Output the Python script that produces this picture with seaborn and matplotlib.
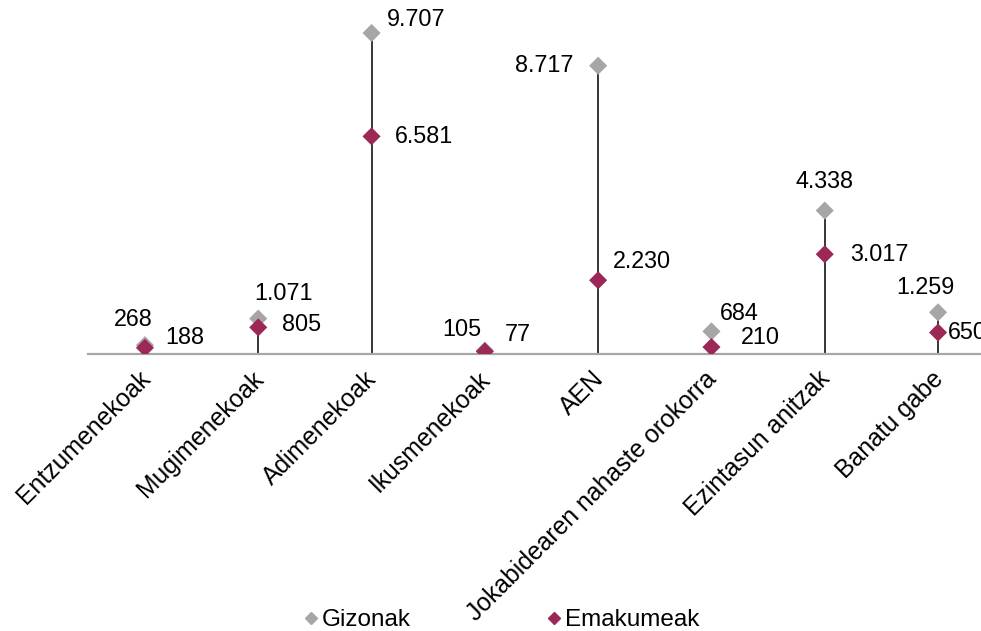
import matplotlib
matplotlib.use("Agg")
import matplotlib.pyplot as plt
import matplotlib.transforms as mtransforms
import seaborn as sns
import pandas as pd
from matplotlib.lines import Line2D

categories = ["Entzumenekoak", "Mugimenekoak", "Adimenekoak", "Ikusmenekoak", "AEN",
              "Jokabidearen nahaste orokorra", "Ezintasun anitzak", "Banatu gabe"]
gizonak = [268, 1071, 9707, 105, 8717, 684, 4338, 1259]
emakumeak = [188, 805, 6581, 77, 2230, 210, 3017, 650]
series_names = ["Gizonak", "Emakumeak"]

GREY = "#A6A6A6"
MAROON = "#9B2857"

sns.set_theme(style="white")
plt.rcParams["font.family"] = ["Liberation Sans", "DejaVu Sans"]
plt.rcParams["text.color"] = "black"
plt.rcParams["xtick.color"] = "black"

fig = plt.figure(figsize=(9.81, 6.31), dpi=100)
W, H = 981, 631
left_px, base_px, top_px = 88.3, 354, 23.3
step = 113.3
ax = fig.add_axes([left_px / W, (H - base_px) / H, 8 * step / W, (base_px - top_px) / H])

n = len(categories)
xs = list(range(n))
df = pd.DataFrame({
    "x": xs * 2,
    "value": gizonak + emakumeak,
    "serie": [series_names[0]] * n + [series_names[1]] * n,
})

maxv = [max(a, b) for a, b in zip(gizonak, emakumeak)]
ax.vlines(xs, 0, maxv, color="black", lw=1.1, zorder=1)

sns.scatterplot(data=df, x="x", y="value", hue="serie", palette=[GREY, MAROON],
                marker="D", s=85, edgecolor="none", legend=False, ax=ax, zorder=3)

ax.set_xlim(-0.5, n - 0.5)
ax.set_ylim(0, 10000)
ax.set_xlabel("")
ax.set_ylabel("")
ax.set_yticks([])
ax.set_xticks(xs)
ax.set_xticklabels(categories, rotation=45, ha="right", rotation_mode="anchor",
                   fontsize=17.8, color="black")
ax.tick_params(axis="x", length=0, pad=9)
shift = mtransforms.ScaledTranslation(-7 / 100, 0, fig.dpi_scale_trans)
for lab in ax.get_xticklabels():
    lab.set_transform(lab.get_transform() + shift)
for s in ["top", "left", "right"]:
    ax.spines[s].set_visible(False)
ax.spines["bottom"].set_color(GREY)
ax.spines["bottom"].set_linewidth(1.6)


def fmt(v):
    return f"{v:,}".replace(",", ".")

# label offsets in pixels (dx, dy up), alignment
g_off = [(-12, 26, "center"), (25, 25, "center"), (15, 13, "left"), (-23, 21, "center"),
         (-25, 0, "right"), (8, 18, "left"), (0, 29, "center"), (-13, 25, "center")]
e_off = [(20, 10, "left"), (24, 3, "left"), (23, 0, "left"), (20, 17, "left"),
         (15, 19, "left"), (29, 10, "left"), (25, 0, "left"), (10, 0, "left")]
for i in xs:
    for vals, offs in ((gizonak, g_off), (emakumeak, e_off)):
        dx, dy, ha = offs[i]
        ax.annotate(fmt(vals[i]), (i, vals[i]), xytext=(dx * 0.72, dy * 0.72),
                    textcoords="offset points", ha=ha, va="center", fontsize=16.8,
                    color="black", annotation_clip=False, clip_on=False)

handles = [Line2D([], [], marker="D", linestyle="none", color=GREY, markersize=6),
           Line2D([], [], marker="D", linestyle="none", color=MAROON, markersize=6)]
fig.legend(handles, series_names, loc="center", bbox_to_anchor=(500 / W, 1 - 620 / H),
           ncol=2, frameon=False, fontsize=17.5, handletextpad=0.05, columnspacing=5.5,
           handlelength=0.8, labelcolor="black")

fig.savefig("out.png", dpi=100)
